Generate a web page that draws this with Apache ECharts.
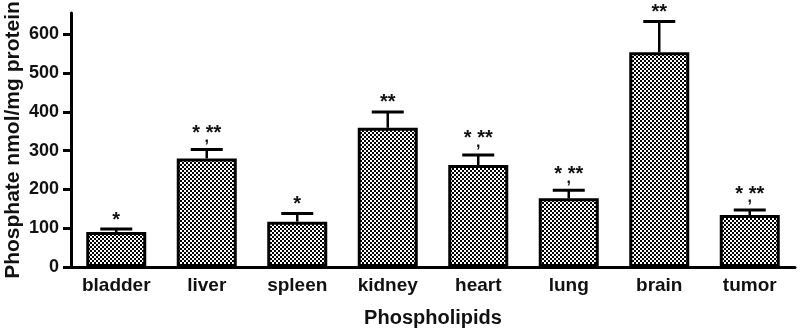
<!DOCTYPE html>
<html>
<head>
<meta charset="utf-8">
<script src="https://cdn.jsdelivr.net/npm/echarts@6/dist/echarts.min.js"></script>
<style>
  html, body { margin: 0; padding: 0; background: #fff; }
  #chart { width: 800px; height: 331px; }
</style>
</head>
<body>
<div id="chart"></div>
<script>
// data
const categories = ['bladder', 'liver', 'spleen', 'kidney', 'heart', 'lung', 'brain', 'tumor']
const means = [90, 280, 117, 359, 263, 177, 554, 134]
const errUpper = [98, 303, 138, 400, 289, 198, 633, 147]
const marks = ['*', '*,**', '*', '**', '*,**', '*,**', '**', '*,**']
const yTicks = [0, 100, 200, 300, 400, 500, 600]

const FONT = '"Liberation Sans", Arial, Helvetica, sans-serif'

// checkered fill for the bars
function makeChecker() {
  const c = document.createElement('canvas')
  c.width = 4
  c.height = 4
  const ctx = c.getContext('2d')
  ctx.fillStyle = '#fff'
  ctx.fillRect(0, 0, 4, 4)
  ctx.fillStyle = '#000'
  ctx.fillRect(0, 0, 2, 2)
  ctx.fillRect(2, 2, 2, 2)
  return c
}

const chart = echarts.init(document.getElementById('chart'))

const errData = categories.map((c, i) => [i, means[i], errUpper[i]])

chart.setOption({
  animation: false,
  grid: { left: 71, right: 5, top: 13, bottom: 64, containLabel: false, outerBoundsMode: 'none' },
  xAxis: {
    type: 'category',
    data: categories,
    name: 'Phospholipids',
    nameLocation: 'middle',
    nameGap: 41,
    nameTextStyle: { fontFamily: FONT, fontWeight: 'bold', fontSize: 20, color: '#111' },
    axisLine: { lineStyle: { color: '#000', width: 3 } },
    axisTick: { alignWithLabel: true, length: 8, lineStyle: { color: '#000', width: 3 } },
    axisLabel: { fontFamily: FONT, fontWeight: 'bold', fontSize: 19, color: '#111', margin: 9 }
  },
  yAxis: {
    type: 'value',
    min: 0,
    max: 655,
    interval: 100,
    name: 'Phosphate nmol/mg protein',
    nameLocation: 'middle',
    nameGap: 47,
    nameMoveOverlap: false,
    nameTextStyle: { fontFamily: FONT, fontWeight: 'bold', fontSize: 21, color: '#111' },
    splitLine: { show: false },
    axisLine: { show: true, lineStyle: { color: '#000', width: 3 } },
    axisTick: { show: true, length: 8, customValues: yTicks, lineStyle: { color: '#000', width: 3 } },
    axisLabel: { fontFamily: FONT, fontWeight: 'bold', fontSize: 18, color: '#111', margin: 12, customValues: yTicks }
  },
  series: [
    {
      type: 'bar',
      data: means,
      barWidth: 60,
      itemStyle: {
        color: { image: makeChecker(), repeat: 'repeat' },
        borderColor: '#000',
        borderWidth: 3
      }
    },
    {
      type: 'custom',
      data: errData,
      z: 3,
      renderItem: function (params, api) {
        const base = api.coord([api.value(0), api.value(1)])
        const top = api.coord([api.value(0), api.value(2)])
        const cap = 16
        const mark = marks[params.dataIndex]
        const parts = mark.split(',')
        const children = [
          { type: 'line', shape: { x1: base[0], y1: base[1], x2: top[0], y2: top[1] }, style: { stroke: '#000', lineWidth: 2.5 } },
          { type: 'line', shape: { x1: top[0] - cap, y1: top[1], x2: top[0] + cap, y2: top[1] }, style: { stroke: '#000', lineWidth: 3 } }
        ]
        if (parts.length > 1) {
          children.push({ type: 'text', style: { text: parts.join(' '), x: top[0], y: top[1] - 16, align: 'center', verticalAlign: 'middle', font: 'bold 20px ' + FONT, fill: '#111' } })
          children.push({ type: 'text', style: { text: ',', x: top[0], y: top[1] - 12, align: 'center', verticalAlign: 'middle', font: 'bold 16px ' + FONT, fill: '#111' } })
        } else {
          children.push({ type: 'text', style: { text: mark, x: top[0], y: top[1] - 9, align: 'center', verticalAlign: 'middle', font: 'bold 20px ' + FONT, fill: '#111' } })
        }
        return { type: 'group', children: children }
      }
    }
  ]
})
</script>
</body>
</html>
